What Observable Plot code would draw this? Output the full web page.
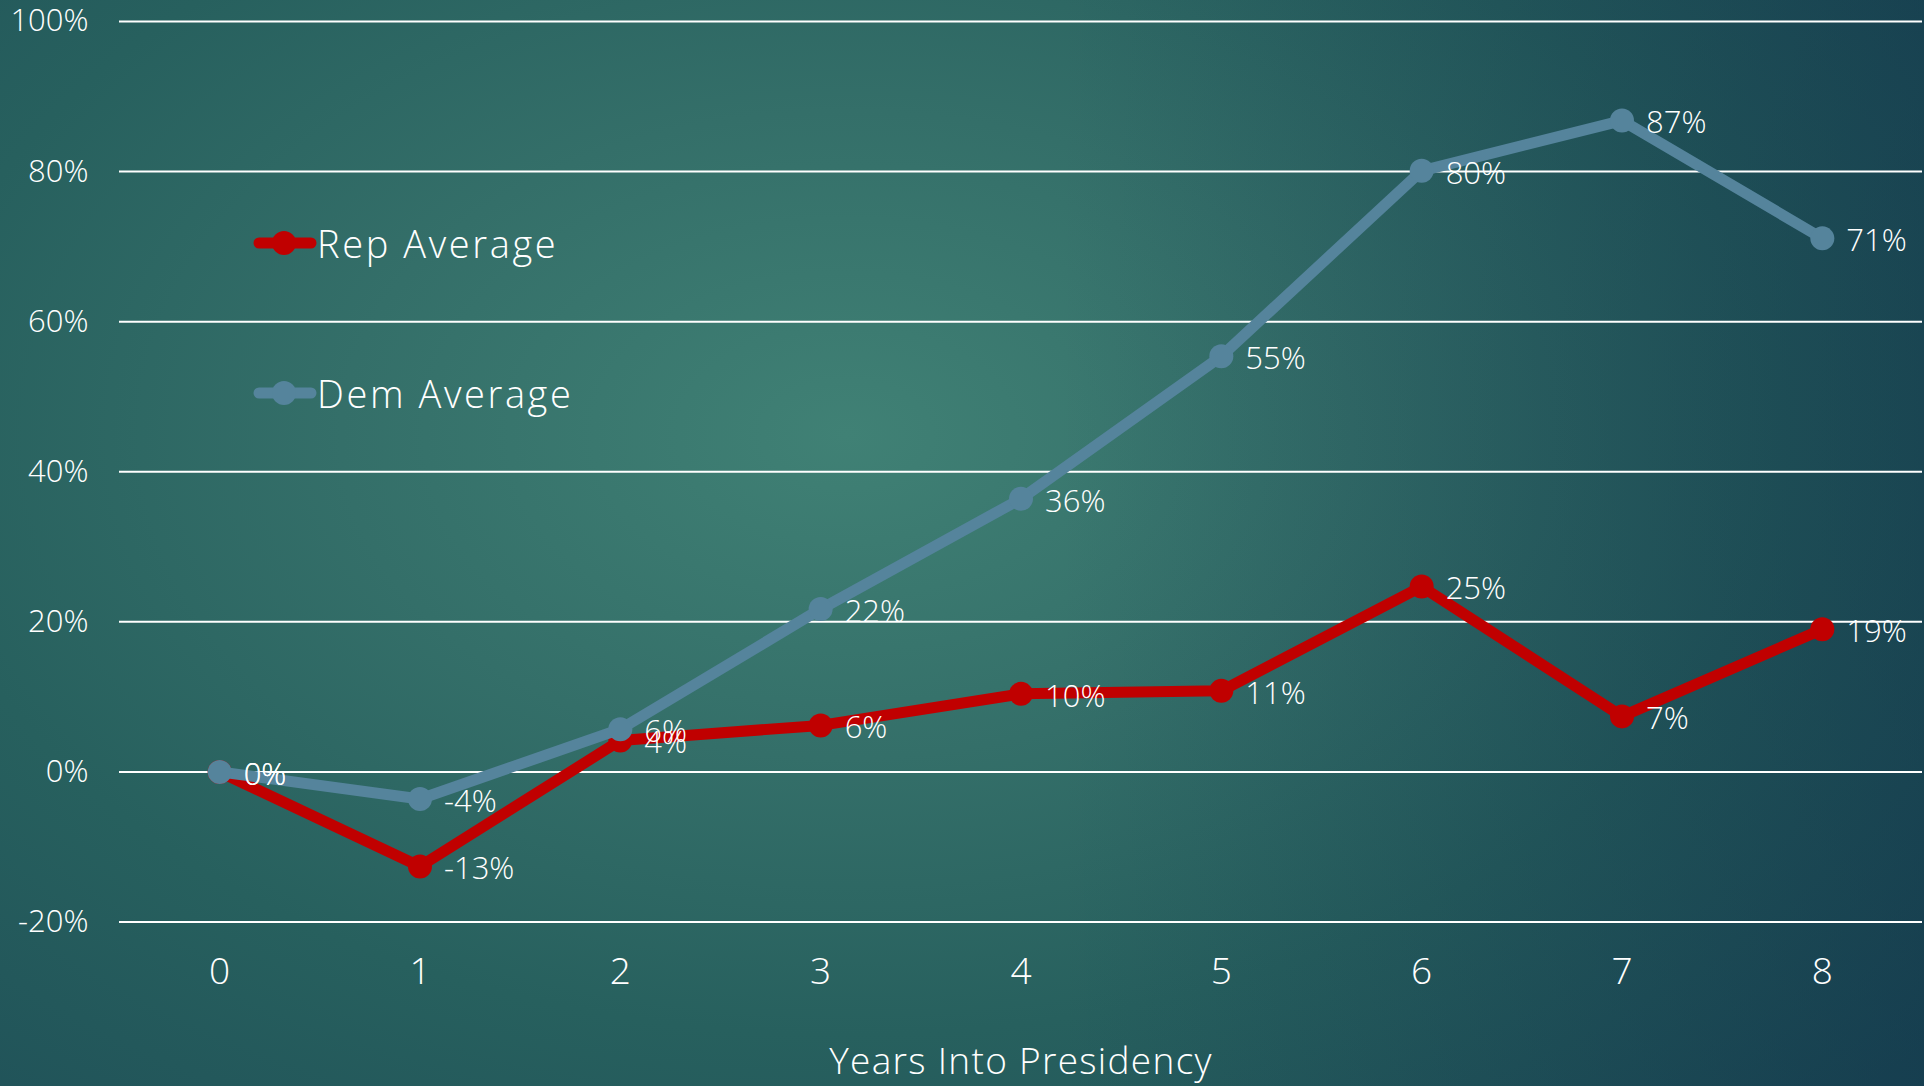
<!DOCTYPE html>
<html>
<head>
<meta charset="utf-8">
<script src="https://cdn.jsdelivr.net/npm/d3@7"></script>
<script src="https://cdn.jsdelivr.net/npm/@observablehq/plot@0.6"></script>
<style>
  html, body { margin: 0; padding: 0; width: 1924px; height: 1086px; overflow: hidden; }
  body {
    position: relative;
    font-family: "Open Sans", "Lato", sans-serif;
    font-weight: 300;
    background:
      linear-gradient(to right, rgba(0,0,0,0) 55%, rgba(8,34,66,0.38) 100%),
      radial-gradient(ellipse 75% 85% at 44% 40%, #408175 0%, #346f69 35%, #27605e 65%, #1f5058 100%);
  }
  #chart { position: absolute; left: 0; top: 0; }
  #chart g[aria-label="x-axis label"] text { letter-spacing: 1.3px; }
  #legend { position: absolute; left: 253px; top: 221px; color: white; }
  .legend-row { display: flex; align-items: center; height: 44px; margin-bottom: 106px; }
  .legend-row span { font-size: 38px; line-height: 44px; margin-left: 0px; letter-spacing: 2.6px; }
</style>
</head>
<body>
<div id="chart"></div>
<div id="legend"></div>
<script>
// Average market return, years into a presidency, by party
const years = [0, 1, 2, 3, 4, 5, 6, 7, 8];
const repAverage = [0, -12.6, 4.2, 6.2, 10.4, 10.8, 24.7, 7.4, 19.0];
const demAverage = [0, -3.6, 5.7, 21.7, 36.4, 55.4, 80.1, 86.8, 71.1];
const seriesNames = ["Rep Average", "Dem Average"];
const seriesColors = ["#C00000", "#55849C"];
const yTicks = [-20, 0, 20, 40, 60, 80, 100];
const xLabel = "Years Into Presidency";

const seriesValues = [repAverage, demAverage];
const rows = seriesNames.flatMap((name, s) =>
  years.map((year, i) => ({ year, value: seriesValues[s][i], series: name }))
);

const pct = (v) => `${Math.round(v)}%`;

// one line + dot pair per series, Rep first so Dem sits on top
const seriesMarks = seriesNames.flatMap((name) => {
  const data = rows.filter((d) => d.series === name);
  return [
    Plot.line(data, { x: "year", y: "value", stroke: "series", strokeWidth: 11, strokeLinejoin: "round", strokeLinecap: "round" }),
    Plot.dot(data, { x: "year", y: "value", fill: "series", r: 12 })
  ];
});

const chart = Plot.plot({
  width: 1924,
  height: 1086,
  marginTop: 21,
  marginBottom: 164.5,
  marginLeft: 119,
  marginRight: 2,
  style: { background: "transparent", color: "white", fontFamily: "'Open Sans', 'Lato', sans-serif", fontWeight: 300, overflow: "visible" },
  x: { domain: [-0.5, 8.5] },
  y: { domain: [-20, 100] },
  color: { domain: seriesNames, range: seriesColors },
  marks: [
    Plot.ruleY(yTicks, { stroke: "white", strokeWidth: 2 }),
    Plot.axisY({ ticks: yTicks, tickSize: 0, tickPadding: 31, tickFormat: (d) => `${d}%`, fontSize: 31, label: null }),
    Plot.axisX({ ticks: years, tickSize: 0, tickPadding: 36, tickFormat: (d) => `${d}`, fontSize: 37,
                 label: xLabel, labelAnchor: "center", labelOffset: 152, labelArrow: "none" }),
    ...seriesMarks,
    Plot.text(rows, { x: "year", y: "value", text: (d) => pct(d.value), textAnchor: "start", dx: 24, dy: 3, fill: "white", fontSize: 31 })
  ]
});
document.getElementById("chart").append(chart);

// legend: line-with-marker swatch and series name
const legend = d3.select("#legend");
seriesNames.forEach((name, i) => {
  const row = legend.append("div").attr("class", "legend-row");
  const svg = row.append("svg").attr("width", 64).attr("height", 44);
  svg.append("line").attr("x1", 6).attr("x2", 58).attr("y1", 22).attr("y2", 22)
    .attr("stroke", seriesColors[i]).attr("stroke-width", 11).attr("stroke-linecap", "round");
  svg.append("circle").attr("cx", 31).attr("cy", 22).attr("r", 12).attr("fill", seriesColors[i]);
  row.append("span").text(name);
});
</script>
</body>
</html>
